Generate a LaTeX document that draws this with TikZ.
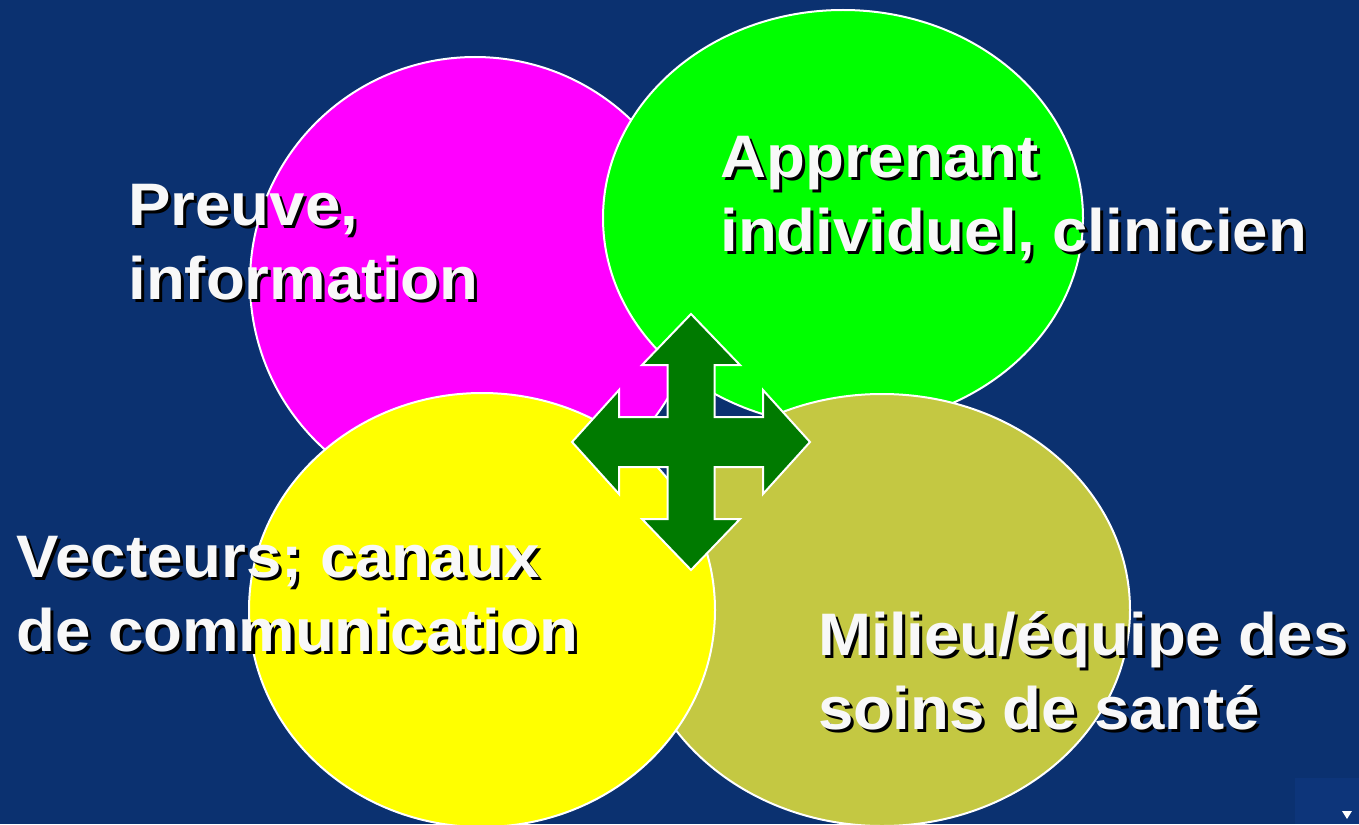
\documentclass[tikz,border=0pt]{standalone}
\usepackage{fontspec}
\newfontfamily\labelfont{Liberation Sans}[FakeStretch=1.06]
\definecolor{slidebg}{RGB}{11,49,112}
\definecolor{navbox}{RGB}{13,53,122}
\definecolor{magentadisc}{RGB}{255,0,255}
\definecolor{greendisc}{RGB}{0,255,0}
\definecolor{yellowdisc}{RGB}{255,255,0}
\definecolor{olivedisc}{RGB}{196,200,66}
\definecolor{arrowgreen}{RGB}{0,122,0}
\definecolor{captionwhite}{RGB}{248,248,248}
\tikzset{
    disc/.style={draw=white, line width=1pt},
    caption/.style={font=\labelfont\bfseries\fontsize{30}{37}\selectfont, text=captionwhite, anchor=base west, inner sep=0pt},
    captionshadow/.style={caption, text=black, xshift=1.5pt, yshift=-1.5pt},
    crossarrow/.style={fill=arrowgreen, draw=white, line width=1pt, line join=miter}
}

\begin{document}
\begin{tikzpicture}[x=0.5pt, y=-0.5pt]
\fill[slidebg] (0,0) rectangle (1359,824);
\useasboundingbox (0,0) rectangle (1359,824);

% the four discs
\draw[disc, fill=magentadisc] (475,282) ellipse [x radius=225, y radius=225];
\draw[disc, fill=greendisc] (843,218) ellipse [x radius=240, y radius=208];
\draw[disc, fill=olivedisc] (882,610) ellipse [x radius=248, y radius=216];
\draw[disc, fill=yellowdisc] (482,610) ellipse [x radius=233, y radius=217];

% four-way arrow
\draw[crossarrow, shift={(691,442)}]
  (0,-128) -- (49,-77) -- (23.5,-77) -- (23.5,-25) -- (72,-25) -- (72,-52)
  -- (119,0) -- (72,52) -- (72,25) -- (23.5,25) -- (23.5,77) -- (49,77)
  -- (0,128) -- (-49,77) -- (-23.5,77) -- (-23.5,25) -- (-72,25) -- (-72,52)
  -- (-119,0) -- (-72,-52) -- (-72,-25) -- (-23.5,-25) -- (-23.5,-77) -- (-49,-77) -- cycle;

% labels
\node[captionshadow] (prv-sh) at (128,225) {\begin{tabular}[t]{@{}l@{}}Preuve,\\information\end{tabular}};
\node[caption] (prv) at (128,225) {\begin{tabular}[t]{@{}l@{}}Preuve,\\information\end{tabular}};
\node[captionshadow] (app-sh) at (720,177) {\begin{tabular}[t]{@{}l@{}}Apprenant\\individuel, clinicien\end{tabular}};
\node[caption] (app) at (720,177) {\begin{tabular}[t]{@{}l@{}}Apprenant\\individuel, clinicien\end{tabular}};
\node[captionshadow] (vec-sh) at (16,577) {\begin{tabular}[t]{@{}l@{}}Vecteurs; canaux\\de communication\end{tabular}};
\node[caption] (vec) at (16,577) {\begin{tabular}[t]{@{}l@{}}Vecteurs; canaux\\de communication\end{tabular}};
\node[captionshadow] (mil-sh) at (818,655) {\begin{tabular}[t]{@{}l@{}}Milieu/équipe des\\soins de santé\end{tabular}};
\node[caption] (mil) at (818,655) {\begin{tabular}[t]{@{}l@{}}Milieu/équipe des\\soins de santé\end{tabular}};

% slide navigation mark
\fill[navbox] (1295,778) rectangle (1359,824);
\fill[white] (1342,811) -- (1352,811) -- (1347,819) -- cycle;
\end{tikzpicture}
\end{document}
